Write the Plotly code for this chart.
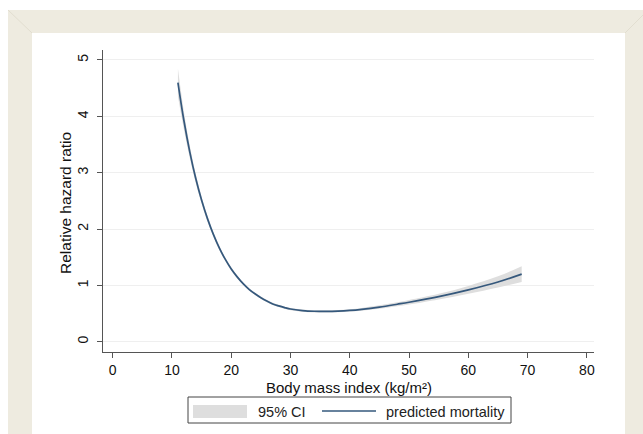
import plotly.graph_objects as go

# Data
bmi = [11, 12, 13, 14, 15, 16, 17, 18, 19, 20, 21, 22, 23, 24, 25, 26, 27, 28, 29, 30,
       32, 34, 36, 38, 40, 42, 45, 48, 50, 55, 60, 65, 69]
hr = [4.60, 3.93, 3.37, 2.90, 2.51, 2.18, 1.90, 1.66, 1.46, 1.29, 1.15, 1.03, 0.93, 0.85,
      0.78, 0.72, 0.67, 0.635, 0.605, 0.58, 0.553, 0.54, 0.537, 0.542, 0.555, 0.575, 0.615,
      0.665, 0.70, 0.80, 0.92, 1.06, 1.20]
ci_half = [0.25, 0.16, 0.11, 0.08, 0.06, 0.05, 0.04, 0.035, 0.03, 0.03, 0.025, 0.02, 0.02,
           0.02, 0.02, 0.02, 0.02, 0.02, 0.02, 0.02, 0.02, 0.02, 0.02, 0.02, 0.02, 0.025,
           0.03, 0.035, 0.04, 0.05, 0.07, 0.10, 0.14]
ci_low = [h - c for h, c in zip(hr, ci_half)]
ci_high = [h + c for h, c in zip(hr, ci_half)]

x_ticks = [0, 10, 20, 30, 40, 50, 60, 70, 80]
y_ticks = [0, 1, 2, 3, 4, 5]
legend_labels = ["95% CI", "predicted mortality"]
x_title = "Body mass index (kg/m²)"
y_title = "Relative hazard ratio"

FONT = "Liberation Sans, Arial, sans-serif"
CI_COLOR = "#dedede"
LINE_COLOR = "#35587c"
TEXT = "#111111"

fig = go.Figure()
fig.add_trace(go.Scatter(x=bmi, y=ci_low, mode="lines", line=dict(width=0, shape="spline"),
                         showlegend=False, hoverinfo="skip"))
fig.add_trace(go.Scatter(x=bmi, y=ci_high, mode="lines", line=dict(width=0, shape="spline"),
                         fill="tonexty", fillcolor=CI_COLOR, name=legend_labels[0], showlegend=False))
fig.add_trace(go.Scatter(x=bmi, y=hr, mode="lines", line=dict(color=LINE_COLOR, width=1.7, shape="spline"),
                         name=legend_labels[1], showlegend=False))

# plot area spans x 103..594 px, y 50..352 px
def px_x(p):
    return (p - 103) / 491.0

def px_y(p):
    return (352 - p) / 302.0

shapes = [
    # page frame
    dict(type="rect", xref="paper", yref="paper", x0=px_x(8), x1=px_x(660), y0=px_y(450), y1=px_y(10),
         fillcolor="#eeebe0", line=dict(width=0), layer="below"),
    dict(type="rect", xref="paper", yref="paper", x0=px_x(32), x1=px_x(625), y0=px_y(450), y1=px_y(33),
         fillcolor="#ffffff", line=dict(width=0), layer="below"),
    dict(type="line", xref="paper", yref="paper", x0=px_x(8), x1=px_x(32), y0=px_y(10), y1=px_y(33),
         line=dict(color="#e2ded0", width=1), layer="below"),
    dict(type="line", xref="paper", yref="paper", x0=px_x(643), x1=px_x(625), y0=px_y(15), y1=px_y(33),
         line=dict(color="#e2ded0", width=1), layer="below"),
    # legend box
    dict(type="rect", xref="paper", yref="paper", x0=px_x(188), x1=px_x(511), y0=px_y(423), y1=px_y(397),
         fillcolor="white", line=dict(color="#444444", width=1)),
    dict(type="rect", xref="paper", yref="paper", x0=px_x(193), x1=px_x(247), y0=px_y(418), y1=px_y(405),
         fillcolor=CI_COLOR, line=dict(width=0)),
    dict(type="line", xref="paper", yref="paper", x0=px_x(322), x1=px_x(376), y0=px_y(411), y1=px_y(411),
         line=dict(color=LINE_COLOR, width=1.3)),
]

annotations = [
    dict(xref="paper", yref="paper", x=px_x(256), y=px_y(411.5), xanchor="left", yanchor="middle",
         text=legend_labels[0], showarrow=False, font=dict(size=14.5, family=FONT, color="#222222")),
    dict(xref="paper", yref="paper", x=px_x(384), y=px_y(411.5), xanchor="left", yanchor="middle",
         text=legend_labels[1], showarrow=False, font=dict(size=14.5, family=FONT, color="#222222")),
    dict(xref="paper", yref="paper", x=px_x(349), y=px_y(387), xanchor="center", yanchor="middle",
         text=x_title, showarrow=False, borderpad=0, font=dict(size=15, family=FONT, color=TEXT)),
    dict(xref="paper", yref="paper", x=px_x(65), y=px_y(203), xanchor="center", yanchor="middle",
         text=y_title, textangle=-90, showarrow=False, borderpad=0,
         font=dict(size=15.5, family=FONT, color=TEXT)),
]

fig.update_layout(
    width=643, height=434,
    margin=dict(l=103, r=49, t=50, b=82),
    paper_bgcolor="white", plot_bgcolor="rgba(0,0,0,0)",
    font=dict(family=FONT, color=TEXT),
    shapes=shapes,
    annotations=annotations,
    showlegend=False,
    xaxis=dict(range=[-1.64, 81.2], tickvals=x_ticks, showgrid=False, zeroline=False,
               showline=True, linecolor="#555555", linewidth=1.2,
               ticks="outside", ticklen=5, tickcolor="#555555", ticklabelstandoff=0,
               tickfont=dict(size=14, color=TEXT)),
    yaxis=dict(range=[-0.183, 5.177], tickvals=y_ticks, showgrid=True, gridcolor="#efefef",
               gridwidth=1, zeroline=False, showline=True, linecolor="#555555", linewidth=1.2,
               ticks="outside", ticklen=5, tickcolor="#555555", tickangle=-90, ticklabelstandoff=3,
               tickfont=dict(size=14, color=TEXT)),
)

fig.write_html("out.html")
